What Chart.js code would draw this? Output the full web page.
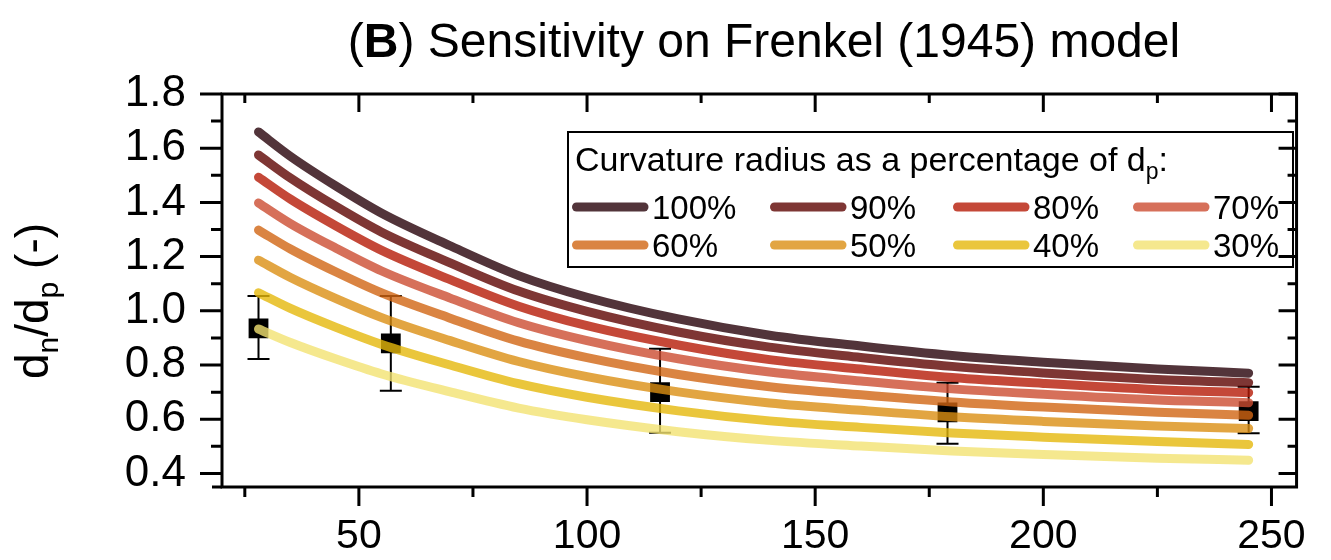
<!DOCTYPE html>
<html>
<head>
<meta charset="utf-8">
<script src="https://cdn.jsdelivr.net/npm/chart.js@4.4.1/dist/chart.umd.min.js"></script>
<style>
  body { margin: 0; background: #fff; }
  #wrap { width: 1331px; height: 560px; }
</style>
</head>
<body>
<div id="wrap"><canvas id="chart" width="1331" height="560"></canvas></div>
<script>
// model curves (x = particle size, y = dn/dp), one array per curvature radius
const xModel = [28, 35, 45, 55, 70, 85, 100, 120, 140, 160, 180, 200, 225, 245];
const r100 = [1.660, 1.570, 1.460, 1.360, 1.240, 1.130, 1.050, 0.970, 0.910, 0.870, 0.835, 0.810, 0.785, 0.770];
const r90  = [1.575, 1.490, 1.385, 1.290, 1.177, 1.073, 0.998, 0.922, 0.866, 0.828, 0.795, 0.771, 0.747, 0.735];
const r80  = [1.493, 1.412, 1.313, 1.223, 1.115, 1.017, 0.945, 0.874, 0.820, 0.785, 0.754, 0.732, 0.709, 0.698];
const r70  = [1.398, 1.322, 1.231, 1.147, 1.047, 0.956, 0.890, 0.823, 0.774, 0.741, 0.712, 0.692, 0.671, 0.661];
const r60  = [1.298, 1.228, 1.143, 1.066, 0.973, 0.888, 0.827, 0.765, 0.720, 0.690, 0.664, 0.645, 0.626, 0.615];
const r50  = [1.187, 1.123, 1.045, 0.975, 0.890, 0.813, 0.757, 0.701, 0.660, 0.633, 0.609, 0.592, 0.575, 0.566];
const r40  = [1.067, 1.009, 0.939, 0.876, 0.800, 0.731, 0.681, 0.631, 0.594, 0.570, 0.549, 0.534, 0.518, 0.507];
const r30  = [0.933, 0.883, 0.822, 0.767, 0.701, 0.641, 0.598, 0.554, 0.522, 0.501, 0.483, 0.470, 0.456, 0.449];

const seriesLabels = ['100%', '90%', '80%', '70%', '60%', '50%', '40%', '30%'];
const seriesValues = [r100, r90, r80, r70, r60, r50, r40, r30];
const seriesColors = [
  'rgba(39,1,9,0.8)', 'rgba(94,4,1,0.8)', 'rgba(181,26,6,0.8)', 'rgba(204,76,49,0.8)',
  'rgba(209,101,19,0.8)', 'rgba(219,143,19,0.8)', 'rgba(229,184,11,0.8)', 'rgba(242,226,114,0.8)'
];

// measured points with error bars
const xExp = [28, 57, 116, 179, 245];
const yExp = [0.935, 0.880, 0.700, 0.625, 0.630];
const yErrHigh = [1.055, 1.055, 0.860, 0.735, 0.720];
const yErrLow = [0.822, 0.705, 0.550, 0.510, 0.548];

// axis ticks
const xTicks = [50, 100, 150, 200, 250];
const xMinor = [25, 75, 125, 175, 225];
const yTicks = [0.4, 0.6, 0.8, 1.0, 1.2, 1.4, 1.6, 1.8];
const yMinor = [0.5, 0.7, 0.9, 1.1, 1.3, 1.5, 1.7];

const FONT = 'Liberation Sans, Arial, sans-serif';

// draws frame, mirrored ticks, error bars, title, y title and the legend box
const decorations = {
  id: 'decorations',
  beforeDatasetsDraw(chart) {
    const { ctx, scales: { x, y } } = chart;
    ctx.save();
    ctx.strokeStyle = '#000';
    ctx.lineWidth = 2;
    ctx.beginPath();
    xExp.forEach((xv, i) => {
      const px = x.getPixelForValue(xv);
      const t = y.getPixelForValue(yErrHigh[i]);
      const b = y.getPixelForValue(yErrLow[i]);
      ctx.moveTo(px, t); ctx.lineTo(px, b);
      ctx.moveTo(px - 11, t); ctx.lineTo(px + 11, t);
      ctx.moveTo(px - 11, b); ctx.lineTo(px + 11, b);
    });
    ctx.stroke();
    ctx.restore();
  },
  afterDraw(chart) {
    const { ctx, chartArea: { left, right, top, bottom }, scales: { x, y } } = chart;
    ctx.save();
    ctx.strokeStyle = '#000';
    ctx.fillStyle = '#000';

    // frame + ticks (left/bottom outward, top/right inward)
    ctx.lineWidth = 3;
    ctx.strokeRect(left, top, right - left, bottom - top);
    ctx.beginPath();
    const seg = (x1, y1, x2, y2) => { ctx.moveTo(x1, y1); ctx.lineTo(x2, y2); };
    xTicks.forEach(v => { const p = x.getPixelForValue(v); seg(p, bottom, p, bottom + 19); seg(p, top, p, top + 18); });
    xMinor.forEach(v => { const p = x.getPixelForValue(v); seg(p, bottom, p, bottom + 10); seg(p, top, p, top + 9); });
    yTicks.forEach(v => { const p = y.getPixelForValue(v); seg(left, p, left - 22, p); seg(right, p, right - 18, p); });
    yMinor.forEach(v => { const p = y.getPixelForValue(v); seg(left, p, left - 11, p); seg(right, p, right - 9, p); });
    seg(left, bottom, left - 10, bottom);
    ctx.stroke();

    // title with bold B
    const parts = [['(', '48px'], ['B', 'bold 48px'], [') Sensitivity on Frenkel (1945) model', '48px']];
    let w = 0;
    parts.forEach(p => { ctx.font = p[1] + ' ' + FONT; w += ctx.measureText(p[0]).width; });
    let tx = 764 - w / 2;
    ctx.textBaseline = 'alphabetic';
    ctx.textAlign = 'left';
    parts.forEach(p => { ctx.font = p[1] + ' ' + FONT; ctx.fillText(p[0], tx, 57); tx += ctx.measureText(p[0]).width; });

    // rotated y axis title: d_n/d_p (-)
    const yt = [['d', 46, 0], ['n', 30, 10], ['/d', 46, 0], ['p', 30, 10], [' (-)', 46, 0]];
    let yw = 0;
    yt.forEach(p => { ctx.font = p[1] + 'px ' + FONT; yw += ctx.measureText(p[0]).width; });
    ctx.save();
    ctx.translate(48, 301);
    ctx.rotate(-Math.PI / 2);
    let ox = -yw / 2;
    yt.forEach(p => { ctx.font = p[1] + 'px ' + FONT; ctx.fillText(p[0], ox, p[2]); ox += ctx.measureText(p[0]).width; });
    ctx.restore();

    // legend
    ctx.lineWidth = 2;
    ctx.strokeRect(568, 132, 725, 135);
    ctx.font = '34px ' + FONT;
    const head = 'Curvature radius as a percentage of d';
    ctx.fillText(head, 575, 171);
    let hx = 575 + ctx.measureText(head).width;
    ctx.font = '23px ' + FONT;
    ctx.fillText('p', hx, 179);
    hx += ctx.measureText('p').width;
    ctx.font = '34px ' + FONT;
    ctx.fillText(':', hx, 171);

    const cols = [572, 770, 953, 1133];
    const rows = [207, 245];
    ctx.lineCap = 'round';
    ctx.lineWidth = 9;
    ctx.font = '33px ' + FONT;
    seriesLabels.forEach((lab, i) => {
      const cx = cols[i % 4];
      const cy = rows[Math.floor(i / 4)];
      ctx.strokeStyle = seriesColors[i];
      ctx.beginPath();
      ctx.moveTo(cx + 4.5, cy); ctx.lineTo(cx + 72, cy);
      ctx.stroke();
      ctx.fillText(lab, cx + 80, cy + 12);
    });
    ctx.restore();
  }
};

const datasets = seriesValues.map((vals, i) => ({
  type: 'line',
  label: seriesLabels[i],
  data: xModel.map((xv, j) => ({ x: xv, y: vals[j] })),
  borderColor: seriesColors[i],
  borderWidth: 9,
  borderCapStyle: 'round',
  borderJoinStyle: 'round',
  pointRadius: 0,
  cubicInterpolationMode: 'monotone',
  fill: false,
  order: 1
}));

datasets.push({
  type: 'scatter',
  label: 'measured',
  data: xExp.map((xv, j) => ({ x: xv, y: yExp[j] })),
  pointStyle: 'rect',
  pointRadius: 14,
  backgroundColor: '#000',
  borderColor: '#000',
  borderWidth: 0,
  order: 10
});

Chart.defaults.font.family = FONT;
Chart.defaults.color = '#000';

new Chart(document.getElementById('chart'), {
  type: 'line',
  data: { datasets },
  options: {
    responsive: false,
    devicePixelRatio: 1,
    animation: false,
    layout: { padding: { top: 94, right: 14, left: 0, bottom: 0 } },
    plugins: { legend: { display: false }, tooltip: { enabled: false }, title: { display: false } },
    scales: {
      x: {
        type: 'linear',
        min: 20,
        max: 255.5,
        afterBuildTicks: s => { s.ticks = xTicks.map(v => ({ value: v })); },
        afterFit: s => { s.height = 73; },
        grid: { display: false, drawTicks: false },
        border: { display: false },
        ticks: { font: { size: 41 }, padding: 25, maxRotation: 0, autoSkip: false, callback: v => String(v) }
      },
      y: {
        type: 'linear',
        min: 0.35,
        max: 1.8,
        afterBuildTicks: s => { s.ticks = yTicks.map(v => ({ value: v })); },
        afterFit: s => { s.width = 222; },
        grid: { display: false, drawTicks: false },
        border: { display: false },
        ticks: { font: { size: 44 }, padding: 36, autoSkip: false, callback: v => v.toFixed(1) }
      }
    }
  },
  plugins: [decorations]
});
</script>
</body>
</html>
